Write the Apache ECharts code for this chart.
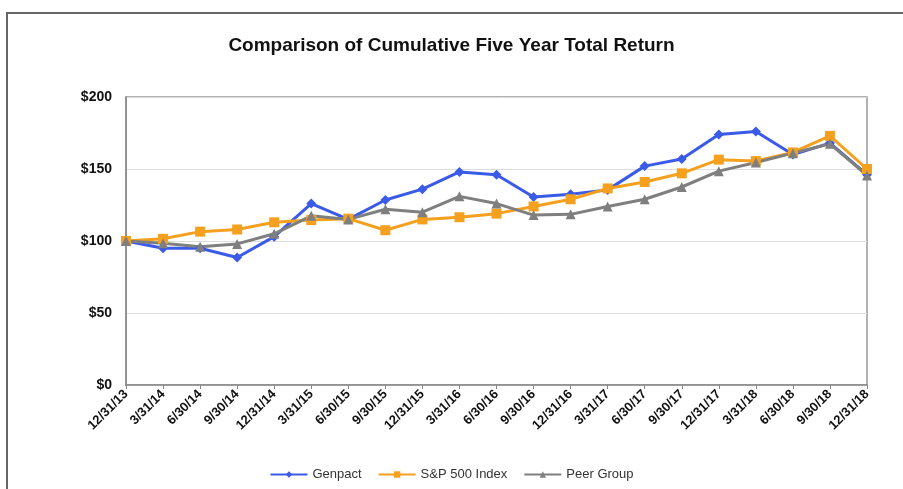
<!DOCTYPE html>
<html>
<head>
<meta charset="utf-8">
<script src="https://cdn.jsdelivr.net/npm/echarts@6/dist/echarts.min.js"></script>
<style>
  html, body { margin: 0; padding: 0; background: #fff; }
  #main { width: 903px; height: 489px; }
</style>
</head>
<body>
<div id="main"></div>
<script>
var dates = ['12/31/13', '3/31/14', '6/30/14', '9/30/14', '12/31/14', '3/31/15', '6/30/15',
  '9/30/15', '12/31/15', '3/31/16', '6/30/16', '9/30/16', '12/31/16', '3/31/17', '6/30/17',
  '9/30/17', '12/31/17', '3/31/18', '6/30/18', '9/30/18', '12/31/18'];
var genpact = [100, 95, 95, 88.5, 103, 126, 115, 128.5, 136, 148, 146, 130.5, 132.5, 135.5, 152,
  157, 174, 176, 160, 168, 146];
var sp500 = [100, 101.5, 106.5, 108, 113, 114.5, 115.5, 107.5, 115, 116.5, 119, 124, 129, 136.5, 141,
  147, 156.5, 155.5, 161.5, 173, 150];
var peer = [100, 98.5, 96, 98, 105, 117.5, 115, 122, 120, 131, 126, 118, 118.5, 124, 129,
  137.5, 148.5, 154.5, 161, 167.5, 145.5];

var chart = echarts.init(document.getElementById('main'));
var option = {
  animation: false,
  backgroundColor: '#fff',
  textStyle: { fontFamily: 'Liberation Sans, Arial, sans-serif' },
  graphic: [{
    type: 'rect',
    shape: { x: 7, y: 13, width: 910, height: 500 },
    style: { fill: 'none', stroke: '#666', lineWidth: 2 }
  }],
  title: {
    text: 'Comparison of Cumulative Five Year Total Return',
    left: 'center',
    top: 31,
    textStyle: { fontSize: 19, fontWeight: 'bold', color: '#111' }
  },
  legend: {
    bottom: 3,
    left: 'center',
    itemWidth: 37,
    itemHeight: 8,
    itemGap: 16,
    textStyle: { fontSize: 13, color: '#333' },
    data: ['Genpact', 'S&P 500 Index', 'Peer Group']
  },
  grid: { left: 126, right: 36, top: 97, bottom: 104, show: true, borderColor: '#999', borderWidth: 1.5 },
  xAxis: {
    type: 'category',
    boundaryGap: false,
    data: dates,
    axisLine: { lineStyle: { color: '#888', width: 1.5 } },
    axisTick: { show: true, length: 4, alignWithLabel: true, lineStyle: { color: '#888' } },
    axisLabel: { interval: 0, rotate: 45, fontSize: 13, fontWeight: 'bold', color: '#111', margin: 7 }
  },
  yAxis: {
    type: 'value',
    min: 0,
    max: 200,
    interval: 50,
    axisLine: { show: true, lineStyle: { color: '#888', width: 1.5 } },
    axisTick: { show: false },
    splitLine: { lineStyle: { color: '#dcdcdc', width: 1 } },
    axisLabel: { formatter: function (v) { return '$' + v; }, fontSize: 14, fontWeight: 'bold', color: '#111', margin: 14 }
  },
  series: [
    {
      name: 'Genpact', type: 'line', data: genpact,
      symbol: 'diamond', symbolSize: 10,
      itemStyle: { color: '#3a5ae8' },
      lineStyle: { width: 3, color: '#3a5ae8' }
    },
    {
      name: 'S&P 500 Index', type: 'line', data: sp500,
      symbol: 'rect', symbolSize: 10,
      itemStyle: { color: '#f5a01e' },
      lineStyle: { width: 3, color: '#f5a01e' }
    },
    {
      name: 'Peer Group', type: 'line', data: peer,
      symbol: 'triangle', symbolSize: 10,
      itemStyle: { color: '#7f7f7f' },
      lineStyle: { width: 3, color: '#7f7f7f' }
    }
  ]
};
chart.setOption(option);
</script>
</body>
</html>
